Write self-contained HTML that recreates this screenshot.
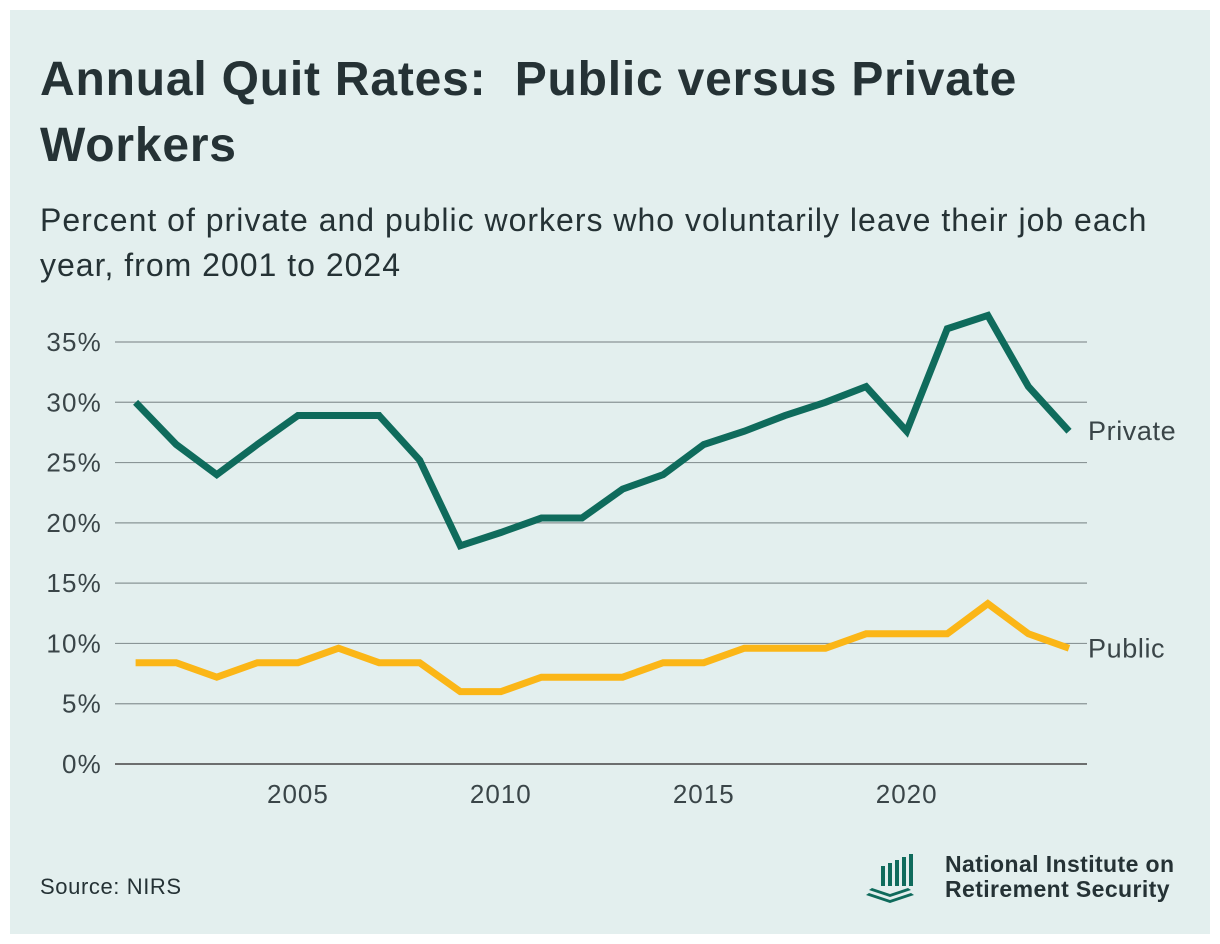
<!DOCTYPE html>
<html><head><meta charset="utf-8"><style>
html,body{margin:0;padding:0;background:#fff;}
#card{position:absolute;left:10px;top:10px;width:1200px;height:924px;background:#e3efee;font-family:"Liberation Sans",sans-serif;color:#253235;}
h1{position:absolute;left:30px;top:37px;margin:0;font-size:48px;line-height:66px;font-weight:bold;width:1060px;letter-spacing:0.8px;}
#sub{position:absolute;left:30px;top:188px;font-size:32px;line-height:45px;width:1140px;letter-spacing:1px;}
#src{position:absolute;left:30px;top:864px;font-size:22px;letter-spacing:0.6px;}
#logo{position:absolute;left:935px;top:842px;font-size:23px;font-weight:bold;line-height:25px;letter-spacing:0.4px;}
svg{position:absolute;left:0;top:0;}
</style></head><body>
<div id="card">
<h1>Annual Quit Rates:&nbsp; Public versus Private Workers</h1>
<div id="sub">Percent of private and public workers who voluntarily leave their job each year, from 2001 to 2024</div>
<div id="src">Source: NIRS</div>
<div id="logo">National Institute on<br>Retirement Security</div>
<svg width="1200" height="924" id="chart">
<g fill="#0f6b5c">
<rect x="871" y="856" width="4" height="20"/><rect x="878" y="853" width="4" height="23"/><rect x="885" y="850" width="4" height="26"/><rect x="892" y="847" width="4" height="29"/><rect x="899" y="844" width="4" height="32"/>
<polygon points="862,878 880,884 898,878 901,880 880,887 859,880"/>
<polygon points="859,883 880,890 901,883 904,885 880,893 856,885"/>
</g>
</svg>
</div>
<script>
const years=[2001,2002,2003,2004,2005,2006,2007,2008,2009,2010,2011,2012,2013,2014,2015,2016,2017,2018,2019,2020,2021,2022,2023,2024];
const privateRates=[30.0,26.5,24.0,26.5,28.9,28.9,28.9,25.2,18.1,19.2,20.4,20.4,22.8,24.0,26.5,27.6,28.9,30.0,31.3,27.6,36.1,37.2,31.3,27.6];
const publicRates=[8.4,8.4,7.2,8.4,8.4,9.6,8.4,8.4,6.0,6.0,7.2,7.2,7.2,8.4,8.4,9.6,9.6,9.6,10.8,10.8,10.8,13.3,10.8,9.6];
const yTicks=[0,5,10,15,20,25,30,35];
const xTicks=[2005,2010,2015,2020];
const NS='http://www.w3.org/2000/svg';
const svg=document.getElementById('chart');
const x=v=>125.6+(v-2001)*(1059-125.6)/23;
const y=v=>754-v*(754-332)/35;
function mk(t,a){const e=document.createElementNS(NS,t);for(const k in a)e.setAttribute(k,a[k]);svg.appendChild(e);return e;}
yTicks.forEach(t=>{
 const l=mk('line',{x1:105,x2:1077,y1:y(t),y2:y(t),stroke:t===0?'#444':'#8a9596','stroke-width':t===0?1.5:1.2});
 
 
 const tx=mk('text',{x:92,y:y(t)+9,'text-anchor':'end','font-size':26,'letter-spacing':1.2,fill:'#3a4548','font-family':'Liberation Sans, sans-serif'});
 tx.textContent=t+'%';
 
 
});
xTicks.forEach(t=>{
 const tx=mk('text',{x:x(t),y:793,'text-anchor':'middle','font-size':26,'letter-spacing':1,fill:'#3a4548','font-family':'Liberation Sans, sans-serif'});
 tx.textContent=t;
 
 
});
function series(vals,color,label,name){
 const p=mk('polyline',{points:vals.map((v,i)=>x(years[i])+','+y(v)).join(' '),fill:'none',stroke:color,'stroke-width':7,'stroke-linejoin':'miter'});
 
 
 const last=vals[vals.length-1];
 const tx=mk('text',{x:x(2024)+19,y:y(last)+9,'font-size':27,'letter-spacing':0.6,fill:'#3a4548','font-family':'Liberation Sans, sans-serif'});
 tx.textContent=label;
 
 
}
series(privateRates,'#0f6b5c','Private','private');
series(publicRates,'#fbb617','Public','public');
</script>
</body></html>
